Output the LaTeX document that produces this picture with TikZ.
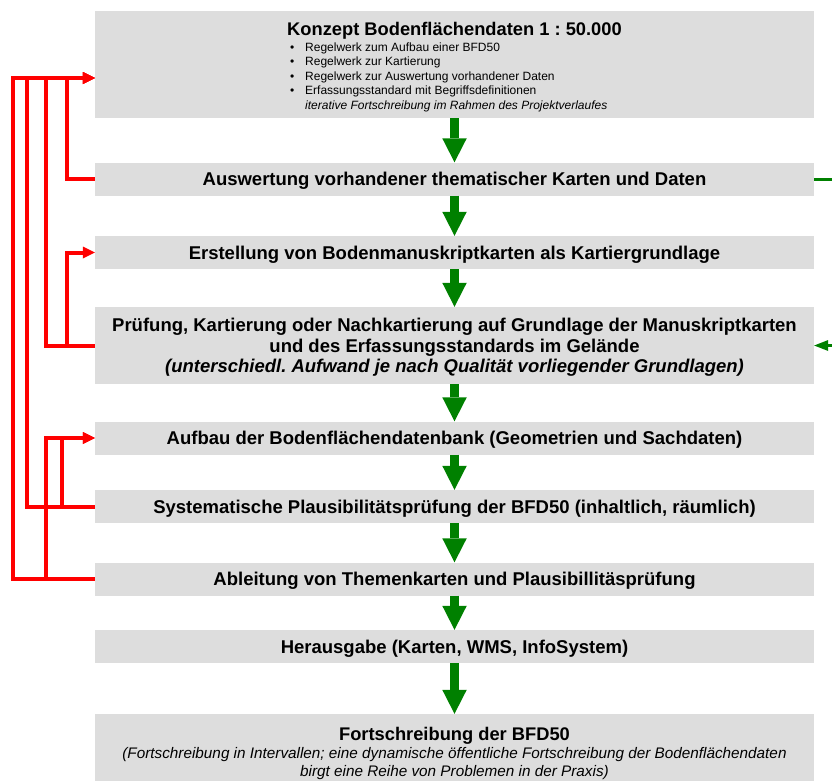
\documentclass[tikz,border=0pt]{standalone}
\usepackage{fontspec}
\setmainfont{Liberation Sans}
\usetikzlibrary{arrows.meta,calc}
\definecolor{boxgray}{RGB}{221,221,221}
\definecolor{flowgreen}{RGB}{0,128,0}
\definecolor{fbred}{RGB}{255,0,0}
\frenchspacing
\begin{document}
\begin{tikzpicture}[x=1pt,y=-1pt,
  box/.style={fill=boxgray, minimum width=719pt, inner sep=0pt, align=center,
    text height=13.4pt, text depth=0pt,
    font=\fontsize{18.5}{20.5}\selectfont\bfseries},
  txt/.style={anchor=base, inner sep=0pt},
  flow/.style={draw=flowgreen, line width=9pt,
    -{Triangle[width=24.5pt,length=24pt,line width=0pt]}},
  fb/.style={draw=fbred, line width=4pt},
  fbarrow/.style={fb, -{Triangle[width=12pt,length=12pt,line width=0pt]}},
  sideline/.style={draw=flowgreen, line width=3pt},
  sidearrow/.style={sideline, -{Triangle[width=11pt,length=14pt,line width=0pt]}},
  bul/.style={anchor=base west, inner sep=0pt, font=\fontsize{12}{14.5}\selectfont}
]
\useasboundingbox (0,0) rectangle (832,780);
\clip (0,0) rectangle (832,780);

% boxes
\node[box, minimum height=107pt] (b1) at (454.5,64.5) {};
\node[box, minimum height=33pt] (b2) at (454.5,179) {Auswertung vorhandener thematischer Karten und Daten};
\node[box, minimum height=33pt] (b3) at (454.5,252.5) {Erstellung von Bodenmanuskriptkarten als Kartiergrundlage};
\node[box, minimum height=77pt, text height=54.4pt] (b4) at (454.5,345.5) {Prüfung, Kartierung oder Nachkartierung auf Grundlage der Manuskriptkarten\\ und des Erfassungsstandards im Gelände\\ \itshape (unterschiedl. Aufwand je nach Qualität vorliegender Grundlagen)};
\node[box, minimum height=33pt] (b5) at (454.5,438) {Aufbau der Bodenflächendatenbank (Geometrien und Sachdaten)};
\node[box, minimum height=33pt] (b6) at (454.5,506.5) {Systematische Plausibilitätsprüfung der BFD50 (inhaltlich, räumlich)};
\node[box, minimum height=33pt] (b7) at (454.5,579) {Ableitung von Themenkarten und Plausibillitäsprüfung};
\node[box, minimum height=33pt] (b8) at (454.5,646.5) {Herausgabe (Karten, WMS, InfoSystem)};
\node[box, minimum height=78pt] (b9) at (454.5,753) {};

% texts of box 1
\node[txt, font=\fontsize{18.3}{20}\selectfont\bfseries] (k1) at (454.5,35) {Konzept Bodenflächendaten 1 : 50.000};
\node[bul] (k2) at (290,51) {\makebox[15pt][l]{•}Regelwerk zum Aufbau einer BFD50};
\node[bul] (k3) at (290,65.5) {\makebox[15pt][l]{•}Regelwerk zur Kartierung};
\node[bul] (k4) at (290,80) {\makebox[15pt][l]{•}Regelwerk zur Auswertung vorhandener Daten};
\node[bul] (k5) at (290,94.5) {\makebox[15pt][l]{•}Erfassungsstandard mit Begriffsdefinitionen};
\node[bul] (k6) at (305,109) {\itshape iterative Fortschreibung im Rahmen des Projektverlaufes};

% texts of box 9
\node[txt, font=\fontsize{18.3}{20}\selectfont\bfseries] (f1) at (454.5,740.5) {Fortschreibung der BFD50};
\node[txt, font=\fontsize{15.3}{18}\selectfont\itshape] (f2) at (454.5,758.5) {(Fortschreibung in Intervallen; eine dynamische öffentliche Fortschreibung der Bodenflächendaten};
\node[txt, font=\fontsize{15.3}{18}\selectfont\itshape] (f3) at (454.5,776.5) {birgt eine Reihe von Problemen in der Praxis)};

% main flow
\draw[flow] (b1.south) -- (b2.north);
\draw[flow] (b2.south) -- (b3.north);
\draw[flow] (b3.south) -- (b4.north);
\draw[flow] (b4.south) -- (b5.north);
\draw[flow] (b5.south) -- (b6.north);
\draw[flow] (b6.south) -- (b7.north);
\draw[flow] (b7.south) -- (b8.north);
\draw[flow] (b8.south) -- (b9.north);

% feedback loops
\coordinate (in1) at ($(b1.west)+(0,13.5)$);
\draw[fbarrow] (b2.west) -- ++(-28,0) |- (in1);
\draw[fbarrow] (b4.west) -- ++(-49,0) |- (in1);
\draw[fbarrow] (b6.west) -- ++(-68,0) |- (in1);
\draw[fbarrow] (b7.west) -- ++(-82,0) |- (in1);
\draw[fbarrow] (b4.west) -- ++(-28,0) |- (b3.west);
\draw[fbarrow] (b6.west) -- ++(-33,0) |- (b5.west);
\draw[fbarrow] (b7.west) -- ++(-49,0) |- (b5.west);

% side connectors (cut off at the right edge)
\coordinate (out2) at ($(b2.east)+(40,0)$);
\coordinate (in4) at ($(b4.east)+(40,0)$);
\draw[sideline] (b2.east) -- (out2);
\draw[sidearrow] (in4) -- (b4.east);
\end{tikzpicture}
\end{document}
